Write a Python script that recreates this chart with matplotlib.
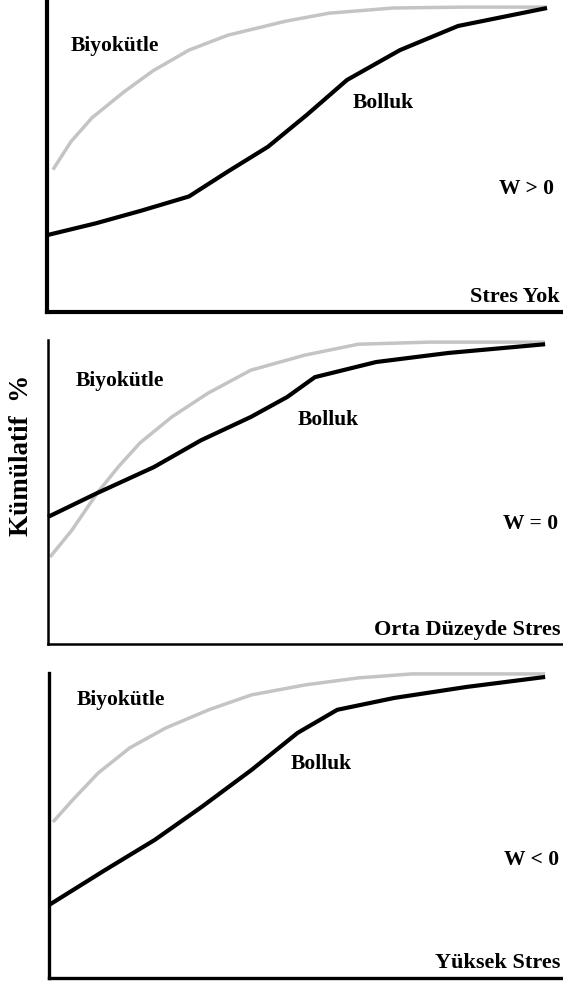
import matplotlib
matplotlib.use("Agg")
import matplotlib.pyplot as plt

# cumulative % curves (x = relative rank 0..100)
# panel 1: Stres Yok (W > 0)
p1_bio_x = [1.2, 4.8, 9.0, 15.4, 21.2, 28.4, 36.2, 47.8, 56.4, 69.2, 83.6, 100]
p1_bio_y = [46.7, 55.9, 63.7, 72.2, 79.1, 85.9, 90.8, 95.4, 98.0, 99.7, 100, 100]
p1_abu_x = [0, 9.8, 19.0, 28.4, 36.2, 44.2, 52.0, 60.0, 70.6, 82.2, 100]
p1_abu_y = [25.2, 29.1, 33.3, 37.9, 46.1, 54.2, 64.7, 76.1, 85.9, 93.8, 99.7]

# panel 2: Orta Düzeyde Stres (W = 0)
p2_bio_x = [0.4, 4.8, 9.9, 14.1, 18.5, 24.9, 32.2, 40.8, 51.7, 62.4, 76.9, 100]
p2_bio_y = [28.8, 37.7, 50.0, 58.6, 66.6, 75.2, 83.1, 90.7, 95.7, 99.3, 100, 100]
p2_abu_x = [0, 9.9, 21.3, 30.8, 40.8, 48.1, 53.7, 66.0, 80.5, 100]
p2_abu_y = [42.1, 50.0, 58.6, 67.5, 75.2, 81.8, 88.4, 93.4, 96.4, 99.3]

# panel 3: Yüksek Stres (W < 0)
p3_bio_x = [0.8, 4.8, 9.9, 16.3, 23.5, 32.2, 40.8, 51.7, 62.4, 73.2, 100]
p3_bio_y = [51.3, 58.6, 67.4, 75.7, 82.2, 88.2, 93.1, 96.4, 98.7, 100, 100]
p3_abu_x = [0, 11.3, 21.3, 30.8, 40.8, 50.1, 58.1, 69.6, 84.1, 100]
p3_abu_y = [24.0, 35.5, 45.4, 56.3, 68.4, 80.6, 88.2, 92.1, 95.7, 99.0]

stress_labels = ["Stres Yok", "Orta Düzeyde Stres", "Yüksek Stres"]
w_labels = ["W > 0", "W = 0", "W < 0"]

W, H = 563, 985
font = {"family": "Liberation Serif", "weight": "bold"}

fig = plt.figure(figsize=(W / 100, H / 100), dpi=100)

def add_panel(left, top, bottom, xmax, ymax, spine_w):
    ax = fig.add_axes([left / W, 1 - bottom / H, 1 - left / W, (bottom - top) / H])
    ax.set_xlim(0, xmax)
    ax.set_ylim(0, ymax)
    ax.spines["top"].set_visible(False)
    ax.spines["right"].set_visible(False)
    ax.spines["left"].set_linewidth(spine_w)
    ax.spines["bottom"].set_linewidth(spine_w)
    ax.set_xticks([])
    ax.set_yticks([])
    ax.patch.set_alpha(0)
    return ax

panels = [
    (add_panel(47, 1, 312, 103.2, 102.0, 3.0),
     p1_bio_x, p1_bio_y, p1_abu_x, p1_abu_y,
     (4.8, 87.3), (61.2, 68.6), (90.4, 40.5), (102.6, 5.0)),
    (add_panel(48, 340, 644, 103.6, 100.7, 1.8),
     p2_bio_x, p2_bio_y, p2_abu_x, p2_abu_y,
     (5.6, 87.1), (50.3, 74.2), (91.6, 39.7), (103.1, 4.6)),
    (add_panel(49, 673, 978, 103.6, 100.3, 2.4),
     p3_bio_x, p3_bio_y, p3_abu_x, p3_abu_y,
     (5.6, 91.4), (48.7, 70.4), (91.8, 38.8), (103.1, 4.9)),
]

for i, (ax, bx, by, axx, ayy, bio_pos, abu_pos, w_pos, st_pos) in enumerate(panels):
    ax.plot(bx, by, color="#c4c4c4", lw=2.5, solid_capstyle="butt", clip_on=False)
    ax.plot(axx, ayy, color="black", lw=3.0, solid_capstyle="butt", clip_on=False)
    ax.text(bio_pos[0], bio_pos[1], "Biyokütle", fontsize=15.5, va="center", ha="left", **font)
    ax.text(abu_pos[0], abu_pos[1], "Bolluk", fontsize=15.5, va="center", ha="left", **font)
    ax.text(w_pos[0], w_pos[1], w_labels[i], fontsize=15.5, va="center", ha="left", **font)
    ax.text(st_pos[0], st_pos[1], stress_labels[i], fontsize=16, va="center",
            ha="right", **font)

fig.text(22 / W, 1 - 455 / H, "Kümülatif  %", rotation=90, fontsize=19.5,
         ha="center", va="center", **font)

fig.savefig("out.png", dpi=100)
